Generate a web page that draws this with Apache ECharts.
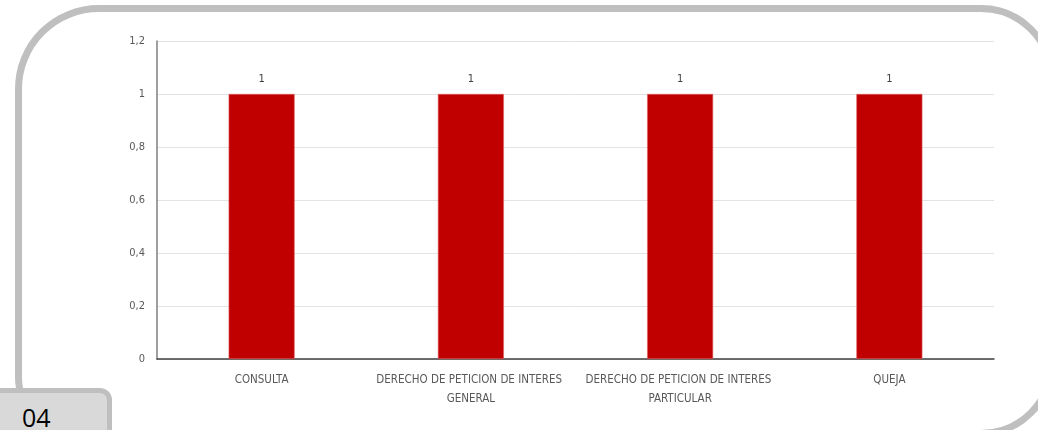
<!DOCTYPE html>
<html>
<head>
<meta charset="utf-8">
<script src="https://cdn.jsdelivr.net/npm/echarts@6/dist/echarts.min.js"></script>
<style>
  html, body { margin:0; padding:0; width:1038px; height:430px; overflow:hidden; background:#fff; }
  #frame { position:absolute; left:15px; top:5px; width:1040px; height:432px; box-sizing:border-box;
           border:7px solid #bfbfbf; border-radius:84px 74px 74px 60px; }
  #chart { position:absolute; left:0; top:0; width:1038px; height:430px; }
  #tab { position:absolute; left:-10px; top:388px; width:122px; height:60px; box-sizing:border-box;
         background:#d9d9d9; border:5px solid #bfbfbf; border-radius:0 12px 0 0; }
  #tabtext { position:absolute; left:22px; top:400px; font-family:'Open Sans','Liberation Sans',sans-serif;
             font-size:25px; color:#000; line-height:34px; }
</style>
</head>
<body>
<div id="frame"></div>
<div id="chart"></div>
<div id="tab"></div>
<div id="tabtext">04</div>
<script>
const categories = ['CONSULTA', 'DERECHO DE PETICION DE INTERES GENERAL', 'DERECHO DE PETICION DE INTERES PARTICULAR', 'QUEJA'];
const values = [1, 1, 1, 1];
const yMin = 0, yMax = 1.2, yStep = 0.2;

const font = "'Liberation Sans Narrow','DejaVu Sans Condensed','Liberation Sans',sans-serif";
const chart = echarts.init(document.getElementById('chart'), null, { renderer: 'canvas' });
chart.setOption({
  backgroundColor: 'transparent',
  animation: false,
  grid: { left: 157, right: 44, top: 41, bottom: 71 },
  xAxis: {
    type: 'category',
    data: categories,
    axisLine: { lineStyle: { color: '#404040', width: 1.5 } },
    axisTick: { show: false },
    axisLabel: {
      color: '#595959', fontSize: 11.5, fontFamily: font, margin: 12, lineHeight: 19,
      interval: 0, width: 205, overflow: 'break'
    }
  },
  yAxis: {
    type: 'value',
    min: yMin, max: yMax, interval: yStep,
    axisLine: { show: true, lineStyle: { color: '#7f7f7f', width: 1.5 } },
    axisTick: { show: false },
    splitLine: { lineStyle: { color: '#e3e3e3', width: 1 } },
    axisLabel: {
      color: '#595959', fontSize: 11, fontFamily: font, margin: 12,
      formatter: v => String(+v.toFixed(1)).replace('.', ',')
    }
  },
  series: [{
    type: 'bar',
    data: values,
    barWidth: 66,
    itemStyle: { color: '#c00000', borderColor: '#e06060', borderWidth: 0.6 },
    label: { show: true, position: 'top', distance: 9, color: '#404040', fontSize: 11, fontFamily: font }
  }]
});
</script>
</body>
</html>
